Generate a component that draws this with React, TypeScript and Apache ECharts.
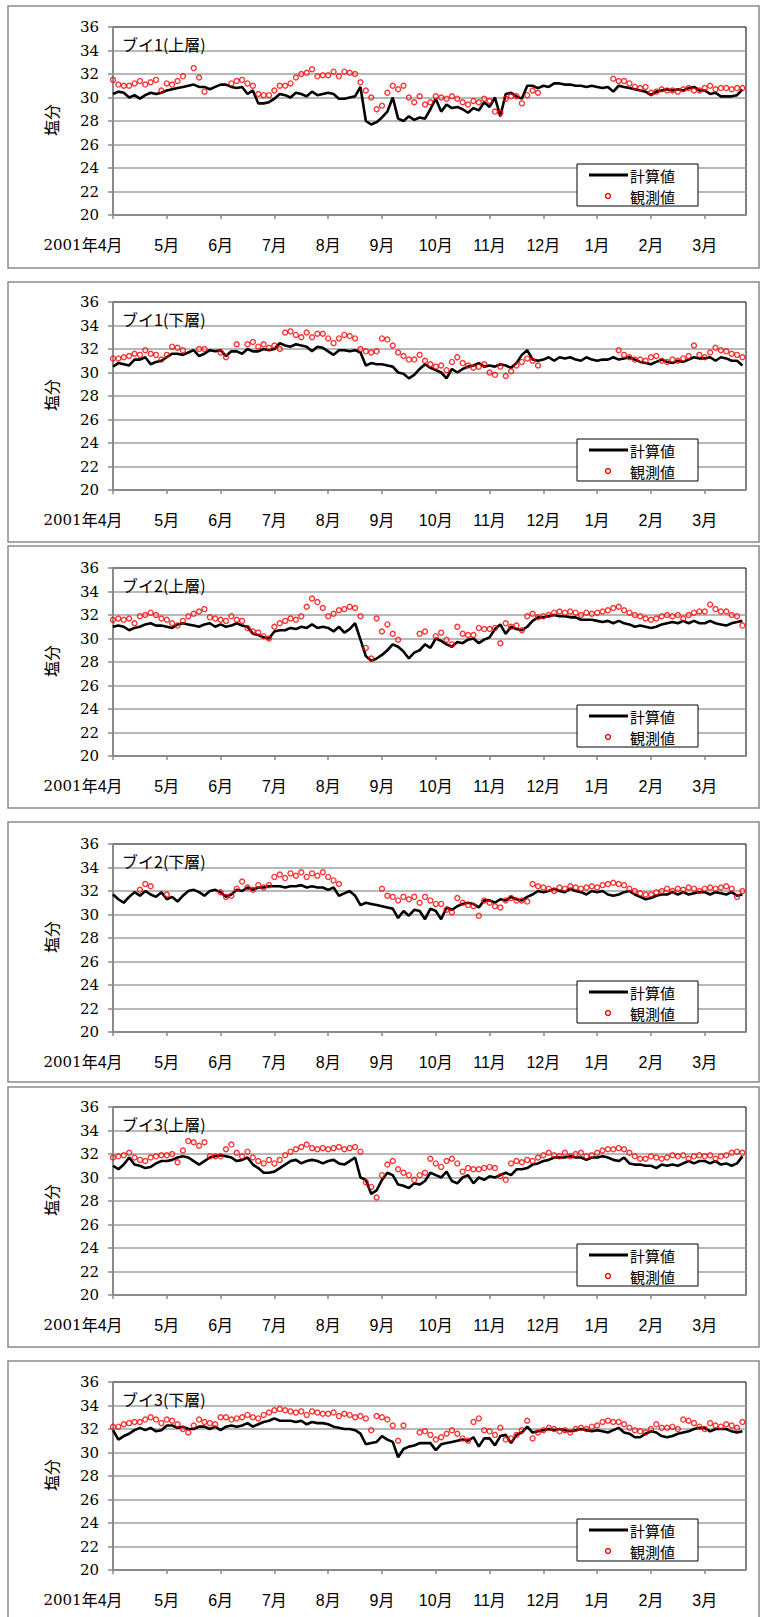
import React, { useEffect, useRef } from "react";
import * as echarts from "echarts";

// ---------- labels ----------
const MONTH_LABELS = ["2001年4月", "5月", "6月", "7月", "8月", "9月", "10月", "11月", "12月", "1月", "2月", "3月"];
const PANEL_TITLES = ["ブイ1(上層)", "ブイ1(下層)", "ブイ2(上層)", "ブイ2(下層)", "ブイ3(上層)", "ブイ3(下層)"];
const CALC_NAME = "計算値";
const OBS_NAME = "観測値";
const Y_NAME = "塩分";
const Y_MIN = 20;
const Y_MAX = 36;
const Y_STEP = 2;
const X_STEP_DAYS = 30;
const X_MAX_DAYS = 353;
const SAMPLE_STEP = 3; // days between samples (Apr 1 2001 = day 0)

const N = null;

// ---------- ブイ1 上層 ----------
const buoy1UpperCalc = [
  30.3, 30.5, 30.4, 30.0, 30.2, 29.9, 30.2, 30.4, 30.3, 30.4,
  30.6, 30.7, 30.8, 30.9, 31.0, 31.1, 30.9, 30.9, 30.7, 30.9,
  31.1, 31.1, 30.9, 30.8, 30.9, 30.3, 30.6, 29.5, 29.5, 29.6,
  29.9, 30.3, 30.2, 30.0, 30.4, 30.3, 30.1, 30.5, 30.2, 30.3,
  30.4, 30.3, 29.9, 29.9, 30.0, 30.1, 30.9, 28.0, 27.7, 27.9,
  28.3, 28.8, 30.0, 28.2, 28.0, 28.4, 28.1, 28.3, 28.2, 29.0,
  29.9, 28.8, 29.4, 29.1, 29.2, 29.0, 28.7, 29.1, 28.9, 29.6,
  29.2, 30.0, 28.4, 30.3, 30.4, 30.1, 29.9, 31.0, 31.0, 30.8,
  31.0, 30.9, 31.2, 31.2, 31.1, 31.1, 31.0, 31.0, 30.9, 31.0,
  30.9, 30.8, 30.9, 30.5, 31.0, 30.9, 30.8, 30.7, 30.6, 30.5,
  30.2, 30.5, 30.6, 30.7, 30.6, 30.7, 30.6, 30.8, 30.9, 30.6,
  30.6, 30.3, 30.4, 30.1, 30.1, 30.1, 30.2, 30.7,
];
const buoy1UpperObs = [
  31.5, 31.1, 31.0, 31.0, 31.2, 31.4, 31.1, 31.3, 31.5, 30.6,
  31.2, 31.1, 31.4, 31.8, N, 32.5, 31.7, 30.5, N, N,
  N, N, 31.2, 31.4, 31.5, 31.2, 31.0, 30.3, 30.2, 30.2,
  30.6, 31.0, 31.0, 31.2, 31.7, 32.0, 32.1, 32.4, 31.8, 31.9,
  31.9, 32.2, 31.8, 32.2, 32.1, 32.0, 31.3, 30.6, 30.0, 29.0,
  29.3, 30.4, 31.0, 30.7, 31.0, 30.0, 29.6, 30.1, 29.4, 29.6,
  30.1, 30.0, 29.9, 30.1, 29.9, 29.6, 29.4, 29.7, 29.6, 29.9,
  29.7, 28.8, 28.7, 29.9, 30.1, 30.1, 29.5, 30.2, 30.6, 30.4,
  N, N, N, N, N, N, N, N, N, N,
  N, N, N, 31.6, 31.4, 31.4, 31.2, 30.9, 30.8, 30.9,
  30.4, 30.5, 30.7, 30.6, 30.6, 30.5, 30.7, 30.8, 30.6, 30.6,
  30.8, 31.0, 30.7, 30.8, 30.8, 30.7, 30.8, 30.8,
];

// ---------- ブイ1 下層 ----------
const buoy1LowerCalc = [
  30.5, 30.8, 30.7, 30.6, 31.1, 31.1, 31.3, 30.7, 30.9, 31.0,
  31.3, 31.6, 31.6, 31.5, 31.7, 31.9, 31.4, 31.6, 31.9, 31.8,
  31.9, 31.4, 31.8, 31.8, 31.6, 32.0, 31.8, 31.8, 32.0, 31.9,
  32.0, 32.5, 32.3, 32.2, 32.4, 32.3, 32.2, 31.8, 32.2, 32.1,
  31.8, 31.5, 31.9, 31.9, 31.8, 31.9, 31.7, 30.6, 30.8, 30.7,
  30.7, 30.6, 30.5, 30.0, 29.9, 29.5, 29.8, 30.3, 30.7, 30.4,
  30.2, 30.0, 29.5, 30.3, 30.0, 30.3, 30.5, 30.6, 30.8, 30.5,
  30.6, 30.5, 30.7, 30.6, 30.4, 30.8, 31.5, 31.9, 31.1, 31.0,
  31.1, 31.3, 31.0, 31.3, 31.2, 31.3, 31.1, 31.0, 31.3, 31.1,
  31.0, 31.1, 31.1, 31.3, 31.1, 31.2, 31.3, 31.1, 30.9, 30.8,
  30.7, 30.9, 31.1, 30.9, 30.8, 31.0, 30.9, 31.1, 31.3, 31.2,
  31.2, 31.3, 31.0, 31.3, 31.2, 31.0, 31.0, 30.6,
];
const buoy1LowerObs = [
  31.2, 31.2, 31.3, 31.4, 31.6, 31.5, 31.9, 31.6, 31.5, 31.1,
  31.5, 32.2, 32.1, 31.9, N, N, 32.0, 32.0, N, N,
  31.7, 31.3, N, 32.4, N, 32.4, 32.6, 32.2, 32.4, 32.1,
  32.3, 32.0, 33.4, 33.5, 33.2, 33.0, 33.4, 33.0, 33.3, 33.3,
  32.9, 32.5, 32.9, 33.2, 33.1, 32.9, 32.0, 31.8, 31.7, 31.8,
  32.9, 32.8, 32.3, 31.7, 31.4, 31.1, 31.1, 31.5, 31.0, 30.7,
  30.5, 30.6, 30.2, 30.9, 31.3, 30.8, 30.6, 30.4, 30.5, 30.7,
  30.0, 29.8, 30.5, 29.7, 30.1, 30.6, 30.9, 31.2, 31.0, 30.6,
  N, N, N, N, N, N, N, N, N, N,
  N, N, N, N, 31.9, 31.5, 31.3, 31.1, 31.1, 31.0,
  31.3, 31.4, 31.0, 30.9, 31.1, 31.0, 31.2, 31.4, 32.3, 31.5,
  31.3, 31.7, 32.1, 31.9, 31.8, 31.6, 31.5, 31.3,
];

// ---------- ブイ2 上層 ----------
const buoy2UpperCalc = [
  31.0, 31.1, 31.0, 30.7, 30.9, 31.0, 31.2, 31.3, 31.1, 31.1,
  31.0, 30.9, 31.2, 31.3, 31.2, 31.1, 31.0, 31.2, 31.3, 31.0,
  31.2, 31.0, 31.1, 31.3, 31.1, 31.0, 30.4, 30.3, 30.1, 30.0,
  30.6, 30.7, 30.7, 30.9, 30.8, 31.0, 30.9, 31.2, 30.9, 31.0,
  30.9, 30.6, 31.0, 30.5, 30.8, 31.3, 29.9, 28.5, 28.1, 28.3,
  28.6, 29.0, 29.5, 29.3, 28.9, 28.3, 28.8, 29.0, 29.5, 29.2,
  30.0, 29.8, 29.5, 29.3, 29.7, 29.6, 29.9, 30.0, 29.6, 29.9,
  30.1, 30.8, 31.2, 30.4, 31.0, 30.8, 30.7, 31.0, 31.5, 31.8,
  31.8, 31.9, 32.0, 31.9, 31.9, 31.8, 31.8, 31.6, 31.6, 31.6,
  31.5, 31.4, 31.5, 31.3, 31.5, 31.3, 31.2, 31.0, 31.1, 31.0,
  30.9, 31.0, 31.2, 31.3, 31.4, 31.3, 31.5, 31.3, 31.5, 31.3,
  31.3, 31.5, 31.3, 31.2, 31.1, 31.3, 31.4, 31.5,
];
const buoy2UpperObs = [
  31.6, 31.7, 31.6, 31.7, 31.3, 31.9, 32.0, 32.2, 32.0, 31.7,
  31.6, 31.3, 31.1, 31.5, 31.9, 32.1, 32.3, 32.5, 31.8, 31.7,
  31.6, 31.5, 31.9, 31.6, 31.5, 30.9, 30.6, 30.5, 30.2, 30.0,
  31.0, 31.3, 31.5, 31.7, 31.6, 31.9, 32.7, 33.4, 33.1, 32.6,
  31.9, 32.1, 32.4, 32.5, 32.7, 32.6, 31.9, 29.2, 28.3, 31.7,
  30.6, 31.2, 30.4, 29.9, N, N, N, 30.4, 30.6, N,
  30.2, 30.5, 29.9, 29.5, 31.0, 30.4, 30.3, 30.3, 30.9, 30.8,
  30.8, 30.9, 29.6, 31.3, 31.0, 31.1, 30.7, 31.9, 32.1, 31.8,
  31.9, 32.0, 32.2, 32.3, 32.2, 32.3, 32.2, 32.0, 32.2, 32.1,
  32.2, 32.3, 32.4, 32.6, 32.7, 32.4, 32.2, 32.0, 31.9, 31.7,
  31.6, 31.7, 31.9, 32.0, 31.9, 32.0, 31.7, 32.0, 32.2, 32.3,
  32.3, 32.9, 32.5, 32.3, 32.3, 32.0, 31.9, 31.1,
];

// ---------- ブイ2 下層 ----------
const buoy2LowerCalc = [
  31.7, 31.3, 31.0, 31.5, 31.9, 31.6, 32.0, 31.7, 31.5, 31.9,
  31.3, 31.5, 31.1, 31.6, 32.0, 32.1, 31.9, 31.6, 32.0, 32.1,
  31.9, 31.5, 31.7, 32.1, 32.0, 32.3, 32.1, 32.3, 32.3, 32.4,
  32.4, 32.4, 32.3, 32.4, 32.4, 32.5, 32.3, 32.4, 32.3, 32.3,
  32.1, 32.3, 31.6, 31.8, 32.0, 31.6, 30.8, 31.0, 30.9, 30.8,
  30.7, 30.6, 30.5, 29.7, 30.3, 29.9, 30.4, 30.3, 29.6, 30.5,
  30.3, 29.6, 30.6, 30.4, 30.7, 30.9, 31.0, 30.9, 30.6, 31.2,
  31.2, 31.0, 31.3, 31.2, 31.5, 31.3, 31.2, 31.5, 31.7, 32.0,
  31.9, 32.0, 32.2, 32.0, 31.9, 32.2, 32.0, 31.9, 31.7, 32.0,
  31.9, 32.0, 31.7, 31.6, 31.7, 31.9, 32.0, 31.7, 31.5, 31.3,
  31.4, 31.6, 31.7, 31.7, 31.9, 31.7, 31.9, 31.7, 31.8, 31.9,
  31.9, 31.7, 31.9, 31.8, 31.7, 31.9, 31.6, 31.7,
];
const buoy2LowerObs = [
  N, N, N, N, N, 32.1, 32.6, 32.4, N, N,
  31.7, N, N, N, N, N, N, N, N, N,
  31.9, 31.5, 31.6, 32.2, 32.8, 32.3, 32.1, 32.5, 32.3, 32.5,
  33.2, 33.4, 33.1, 33.5, 33.3, 33.6, 33.2, 33.5, 33.3, 33.6,
  33.2, 32.9, 32.6, N, N, N, N, N, N, N,
  32.2, 31.6, 31.5, 31.2, 31.5, 31.3, 31.5, 31.0, 31.5, 31.2,
  30.9, 30.9, 30.4, 30.2, 31.4, 31.0, 30.8, 30.7, 29.9, 31.2,
  31.0, 30.7, 30.6, 31.2, 31.4, 31.2, 31.2, 31.1, 32.6, 32.4,
  32.3, 32.2, 32.0, 32.3, 32.2, 32.4, 32.3, 32.2, 32.3, 32.4,
  32.3, 32.5, 32.6, 32.7, 32.6, 32.5, 32.2, 32.0, 31.8, 31.7,
  31.7, 31.9, 32.0, 32.2, 32.0, 32.2, 32.1, 32.3, 32.2, 32.0,
  32.2, 32.3, 32.2, 32.3, 32.4, 32.2, 31.5, 32.0,
];

// ---------- ブイ3 上層 ----------
const buoy3UpperCalc = [
  31.0, 30.7, 31.1, 31.7, 31.1, 31.0, 30.8, 30.9, 31.2, 31.4,
  31.4, 31.5, 31.7, 31.8, 31.7, 31.4, 31.1, 31.4, 31.7, 31.8,
  31.9, 31.8, 31.7, 31.4, 31.5, 31.7, 31.1, 30.8, 30.4, 30.4,
  30.5, 30.8, 31.1, 31.4, 31.5, 31.2, 31.4, 31.5, 31.4, 31.2,
  31.4, 31.5, 31.2, 31.1, 31.4, 31.7, 30.0, 29.8, 28.6, 28.9,
  29.8, 30.4, 30.2, 29.4, 29.3, 29.1, 29.5, 29.4, 29.7, 30.4,
  30.2, 30.0, 30.5, 29.7, 29.5, 30.0, 30.2, 29.5, 30.0, 29.8,
  30.1, 30.0, 30.2, 30.4, 30.2, 30.7, 30.7, 30.8, 31.1, 31.2,
  31.4, 31.5, 31.7, 31.7, 31.7, 31.8, 31.7, 31.7, 31.5, 31.7,
  31.7, 31.8, 31.7, 31.5, 31.4, 31.7, 31.2, 31.1, 31.1, 31.0,
  31.0, 30.8, 31.1, 31.0, 31.1, 31.0, 31.2, 31.4, 31.2, 31.4,
  31.4, 31.2, 31.4, 31.1, 31.2, 31.0, 31.2, 31.8,
];
const buoy3UpperObs = [
  31.7, 31.8, 31.9, 32.1, 31.7, 31.5, 31.4, 31.7, 31.8, 31.9,
  31.9, 32.0, 31.3, 32.3, 33.1, 33.0, 32.7, 33.0, 31.8, 31.8,
  31.8, 32.4, 32.8, 32.1, 31.8, 32.2, 31.7, 31.4, 31.2, 31.5,
  31.2, 31.5, 31.9, 32.2, 32.4, 32.6, 32.8, 32.5, 32.4, 32.5,
  32.4, 32.5, 32.6, 32.4, 32.5, 32.6, 32.2, 29.6, 29.2, 28.3,
  30.2, 31.1, 31.4, 30.7, 30.4, 30.2, 29.8, 30.2, 30.4, 31.6,
  31.2, 30.9, 31.4, 31.6, 31.2, 30.5, 30.8, 30.7, 30.7, 30.8,
  30.9, 30.8, 30.1, 29.8, 31.2, 31.4, 31.3, 31.5, 31.4, 31.7,
  31.9, 32.1, 31.9, 31.8, 32.1, 31.8, 32.0, 32.1, 31.8, 31.9,
  32.1, 32.3, 32.4, 32.4, 32.5, 32.4, 32.1, 31.8, 31.6, 31.6,
  31.8, 31.7, 31.6, 31.7, 31.9, 31.8, 31.9, 31.6, 31.8, 31.9,
  31.8, 31.9, 31.6, 31.8, 31.9, 32.1, 32.2, 32.1,
];

// ---------- ブイ3 下層 ----------
const buoy3LowerCalc = [
  31.9, 31.1, 31.4, 31.6, 31.9, 32.1, 31.9, 32.1, 31.8, 31.9,
  32.3, 32.3, 32.1, 32.2, 32.0, 32.0, 32.2, 32.2, 32.0, 32.2,
  31.9, 32.2, 32.3, 32.2, 32.3, 32.5, 32.2, 32.4, 32.6, 32.7,
  32.9, 32.7, 32.7, 32.7, 32.6, 32.7, 32.4, 32.6, 32.5, 32.5,
  32.4, 32.2, 32.1, 32.0, 32.0, 31.9, 31.6, 30.7, 30.8, 30.9,
  31.4, 31.1, 30.9, 29.6, 30.3, 30.5, 30.6, 30.8, 30.8, 30.8,
  30.2, 30.7, 30.8, 30.9, 31.0, 31.1, 31.0, 31.3, 30.5, 31.2,
  31.2, 30.6, 31.4, 31.5, 30.8, 31.5, 31.7, 32.2, 31.7, 31.8,
  31.9, 32.0, 31.9, 32.0, 31.9, 31.8, 31.9, 32.0, 31.9, 31.8,
  31.9, 31.8, 31.7, 31.9, 32.1, 31.7, 31.6, 31.3, 31.3, 31.6,
  31.8, 31.7, 31.4, 31.3, 31.4, 31.6, 31.7, 31.8, 32.0, 32.1,
  32.1, 31.8, 32.0, 32.0, 32.0, 31.8, 31.7, 31.8,
];
const buoy3LowerObs = [
  32.2, 32.2, 32.4, 32.5, 32.6, 32.6, 32.8, 33.0, 32.8, 32.5,
  32.8, 32.7, 32.4, 32.0, 31.7, 32.3, 32.8, 32.6, 32.5, 32.4,
  33.0, 33.0, 32.8, 32.9, 33.0, 33.2, 33.0, 32.9, 33.2, 33.4,
  33.6, 33.7, 33.6, 33.5, 33.4, 33.5, 33.2, 33.5, 33.4, 33.3,
  33.3, 33.4, 33.1, 33.3, 33.2, 33.0, 33.1, 32.9, 31.9, 33.1,
  33.0, 32.8, 32.3, 31.0, 32.3, N, N, 31.7, 31.8, 31.5,
  31.1, 31.3, 31.6, 31.9, 31.6, 31.2, 31.0, 32.6, 32.9, 31.9,
  31.8, 31.5, 32.1, 31.1, 31.2, 31.5, 31.9, 32.7, 31.2, 31.7,
  31.9, 32.1, 32.0, 31.8, 31.9, 31.7, 32.0, 32.1, 32.0, 32.2,
  32.3, 32.6, 32.7, 32.6, 32.6, 32.4, 32.1, 31.9, 31.8, 31.7,
  32.0, 32.4, 32.1, 32.1, 32.2, 32.0, 32.8, 32.7, 32.5, 32.2,
  32.0, 32.5, 32.3, 32.2, 32.4, 32.3, 32.1, 32.6,
];

const CALC_SERIES = [buoy1UpperCalc, buoy1LowerCalc, buoy2UpperCalc, buoy2LowerCalc, buoy3UpperCalc, buoy3LowerCalc];
const OBS_SERIES = [buoy1UpperObs, buoy1LowerObs, buoy2UpperObs, buoy2LowerObs, buoy3UpperObs, buoy3LowerObs];

// ---------- layout ----------
const PAGE_W = 762;
const PAGE_H = 1617;
const PLOT_LEFT = 113;
const PLOT_W = 633;
const PLOT_H = 188;
const PLOT_TOPS = [27, 302, 568, 844, 1107, 1382];
const PANEL_BOXES = [
  [6, 268],
  [282, 542],
  [546, 808],
  [822, 1082],
  [1087, 1347],
  [1361, 1630],
];

const SANS = "'Liberation Sans', 'Noto Sans CJK JP', sans-serif";
const JP = "'Noto Sans CJK JP', sans-serif";
const SERIF = "'DejaVu Serif', serif";

const LABEL_RICH = {
  s: { fontFamily: SERIF, fontSize: 15, color: "#000" },
  c: { fontFamily: SANS, fontSize: 16, color: "#000" },
  p: { width: 60, fontSize: 16 },
};

function monthIndex(v: number): number {
  if (Math.abs(v % X_STEP_DAYS) > 1e-6) return -1;
  const m = Math.round(v / X_STEP_DAYS);
  return m < MONTH_LABELS.length ? m : -1;
}

function buildOption() {
  const grids: any[] = [];
  const xAxes: any[] = [];
  const yAxes: any[] = [];
  const series: any[] = [];
  const graphics: any[] = [];

  PANEL_BOXES.forEach(([top, bottom]) => {
    graphics.push({
      type: "rect",
      z: -10,
      shape: { x: 8, y: top, width: 751, height: bottom - top },
      style: { fill: "rgba(0,0,0,0)", stroke: "#8a8a8a", lineWidth: 1.5 },
    });
  });

  PLOT_TOPS.forEach((t, i) => {
    grids.push({
      left: PLOT_LEFT,
      top: t,
      width: PLOT_W,
      height: PLOT_H,
      show: true,
      borderColor: "#000",
      borderWidth: 1,
      backgroundColor: "rgba(0,0,0,0)",
    });
    // main month axis (labels from 5月 on)
    xAxes.push({
      type: "value",
      gridIndex: i,
      position: "bottom",
      min: 0,
      max: X_MAX_DAYS,
      interval: X_STEP_DAYS,
      axisLine: { show: true, onZero: false, lineStyle: { color: "#8a8a8a", width: 2 } },
      axisTick: { show: true, inside: false, length: 4, lineStyle: { color: "#8a8a8a", width: 1.5 } },
      splitLine: { show: false },
      axisLabel: {
        show: true,
        margin: 22,
        hideOverlap: false,
        showMinLabel: true,
        showMaxLabel: false,
        formatter: (v: number) => {
          const m = monthIndex(v);
          if (m <= 0) return "";
          return "{c|" + MONTH_LABELS[m] + "}";
        },
        rich: LABEL_RICH,
      },
    });
    // companion axis on the same scale carrying only the first (year) label
    xAxes.push({
      type: "value",
      gridIndex: i,
      position: "bottom",
      offset: 0,
      min: 0,
      max: X_MAX_DAYS,
      interval: X_STEP_DAYS,
      axisLine: { show: false, onZero: false },
      axisTick: { show: false },
      splitLine: { show: false },
      axisLabel: {
        show: true,
        margin: 22,
        hideOverlap: false,
        showMinLabel: true,
        showMaxLabel: false,
        formatter: (v: number) => {
          const m = monthIndex(v);
          if (m !== 0) return "";
          return "{s|2001}{c|年4月}{p| }";
        },
        rich: LABEL_RICH,
      },
    });
    yAxes.push({
      type: "value",
      gridIndex: i,
      min: Y_MIN,
      max: Y_MAX,
      interval: Y_STEP,
      axisLine: { show: true, onZero: false, lineStyle: { color: "#8a8a8a", width: 2 } },
      axisTick: { show: true, inside: false, length: 5, lineStyle: { color: "#8a8a8a", width: 1.5 } },
      splitLine: { show: true, showMinLine: false, showMaxLine: false, lineStyle: { color: "#a0a0a0", width: 1.5 } },
      axisLabel: { show: true, margin: 14, hideOverlap: false, fontFamily: SERIF, fontSize: 15, color: "#000" },
    });

    const calc = CALC_SERIES[i];
    const obs = OBS_SERIES[i];
    const calcData = calc.map((v, k) => [k * SAMPLE_STEP, v]);
    const obsData: any[] = [];
    obs.forEach((v, k) => {
      if (v !== null) obsData.push([k * SAMPLE_STEP, v]);
    });

    series.push({
      type: "line",
      name: CALC_NAME,
      xAxisIndex: 2 * i,
      yAxisIndex: i,
      data: calcData,
      symbol: "none",
      showSymbol: false,
      lineStyle: { color: "#000", width: 2.6 },
      itemStyle: { color: "#000" },
      silent: true,
      z: 3,
    });
    series.push({
      type: "scatter",
      name: OBS_NAME,
      xAxisIndex: 2 * i,
      yAxisIndex: i,
      data: obsData,
      symbol: "circle",
      symbolSize: 5,
      itemStyle: { color: "rgba(255,255,255,0)", borderColor: "#ff0000", borderWidth: 1.4 },
      silent: true,
      z: 4,
    });

    // panel title inside the plot
    graphics.push({
      type: "text",
      z: 100,
      x: 122,
      y: t + 17,
      style: { text: PANEL_TITLES[i], fontFamily: JP, fontSize: 16, fill: "#000", verticalAlign: "middle", align: "left" },
    });
    // y axis name
    graphics.push({
      type: "text",
      z: 100,
      x: 51,
      y: t + 93,
      rotation: Math.PI / 2,
      style: { text: Y_NAME, fontFamily: JP, fontSize: 16, fill: "#000", align: "center", verticalAlign: "middle" },
    });
    // legend
    const ly = t + 137;
    graphics.push({
      type: "rect",
      z: 100,
      shape: { x: 577, y: ly, width: 121, height: 42 },
      style: { fill: "#fff", stroke: "#000", lineWidth: 1 },
    });
    graphics.push({
      type: "line",
      z: 101,
      shape: { x1: 589, y1: ly + 11, x2: 628, y2: ly + 11 },
      style: { stroke: "#000", lineWidth: 3 },
    });
    graphics.push({
      type: "text",
      z: 101,
      x: 630,
      y: ly + 11,
      style: { text: CALC_NAME, fontFamily: JP, fontSize: 15, fill: "#000", verticalAlign: "middle", align: "left" },
    });
    graphics.push({
      type: "circle",
      z: 101,
      shape: { cx: 608, cy: ly + 32, r: 2.4 },
      style: { fill: "rgba(255,255,255,0)", stroke: "#ff0000", lineWidth: 1.4 },
    });
    graphics.push({
      type: "text",
      z: 101,
      x: 630,
      y: ly + 32,
      style: { text: OBS_NAME, fontFamily: JP, fontSize: 15, fill: "#000", verticalAlign: "middle", align: "left" },
    });
  });

  return {
    animation: false,
    backgroundColor: "#fff",
    grid: grids,
    xAxis: xAxes,
    yAxis: yAxes,
    series,
    graphic: graphics,
  };
}

export default function App() {
  const ref = useRef<HTMLDivElement>(null);
  useEffect(() => {
    if (!ref.current) return;
    const chart = echarts.init(ref.current, null, { renderer: "svg" });
    chart.setOption(buildOption() as any);
    return () => chart.dispose();
  }, []);
  return (
    <div
      ref={ref}
      style={{ position: "absolute", left: 0, top: 0, width: PAGE_W, height: PAGE_H, background: "#fff" }}
    />
  );
}
